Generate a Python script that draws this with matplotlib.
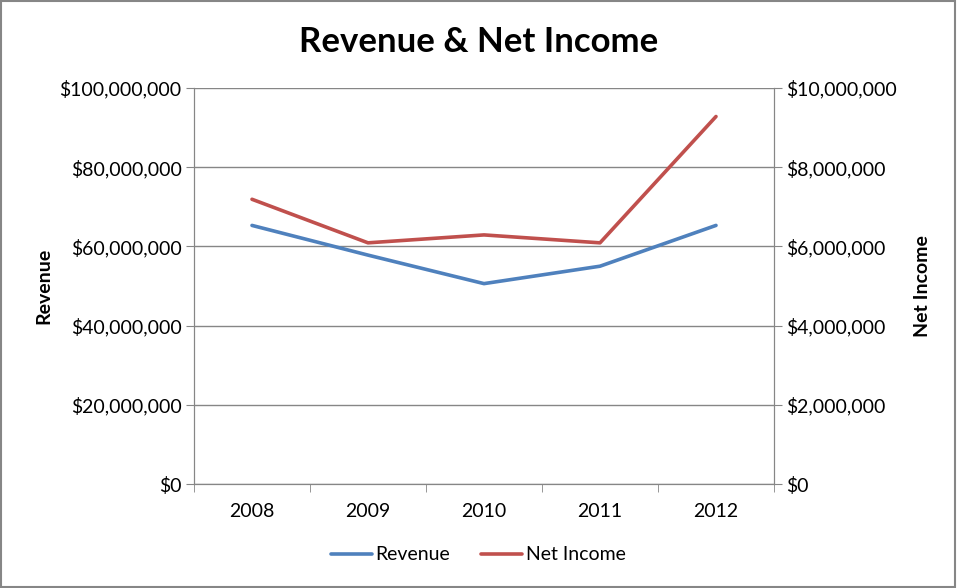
import matplotlib.pyplot as plt
from matplotlib.ticker import FuncFormatter, FixedLocator
from matplotlib.patches import Rectangle

plt.rcParams['font.family'] = ['Lato', 'DejaVu Sans']

# Data
years = ['2008', '2009', '2010', '2011', '2012']
revenue = [65300000, 57800000, 50600000, 55000000, 65300000]
net_income = [7190000, 6090000, 6290000, 6090000, 9280000]

blue = '#4F81BD'
red = '#C0504D'
gray = '#868686'

fig = plt.figure(figsize=(9.57, 5.88), dpi=100)
ax = fig.add_axes([194 / 957, 1 - 484 / 588, 580 / 957, 396 / 588])
ax2 = ax.twinx()

x = list(range(len(years)))
ax.plot(x, revenue, color=blue, lw=2.6, solid_capstyle='round', label='Revenue', zorder=3)
ax2.plot(x, net_income, color=red, lw=2.6, solid_capstyle='round', label='Net Income', zorder=3)

money = FuncFormatter(lambda v, p: '${:,.0f}'.format(v))

ax.set_xlim(-0.5, 4.5)
ax.set_ylim(0, 100000000)
ax2.set_ylim(0, 10000000)
ax.set_yticks(range(0, 100000001, 20000000))
ax2.set_yticks(range(0, 10000001, 2000000))
ax.yaxis.set_major_formatter(money)
ax2.yaxis.set_major_formatter(money)

ax.set_xticks(x)
ax.set_xticklabels(years)
ax.xaxis.set_minor_locator(FixedLocator([-0.5, 0.5, 1.5, 2.5, 3.5, 4.5]))
ax.tick_params(axis='x', which='major', length=0, pad=14, labelsize=14)
ax.tick_params(axis='x', which='minor', length=6, color=gray, direction='out')
ax.tick_params(axis='y', length=6, color=gray, labelsize=14, pad=3)
ax2.tick_params(axis='y', length=6, color=gray, labelsize=14, pad=3)

ax.grid(axis='y', color=gray, lw=1)
ax.set_axisbelow(True)
for a in (ax, ax2):
    a.spines['top'].set_visible(False)
    for s in ('left', 'right', 'bottom'):
        a.spines[s].set_color(gray)

ax.set_ylabel('Revenue', fontsize=14, fontweight='bold', labelpad=5)
ax2.set_ylabel('Net Income', fontsize=14, fontweight='bold', rotation=90, labelpad=12)

fig.text(0.5, 1 - 42 / 588, 'Revenue & Net Income', ha='center', va='center',
         fontsize=25, fontweight='bold')

h1, l1 = ax.get_legend_handles_labels()
h2, l2 = ax2.get_legend_handles_labels()
fig.legend(h1 + h2, l1 + l2, loc='center', bbox_to_anchor=(0.5, 1 - 555 / 588),
           ncol=2, frameon=False, fontsize=14, handlelength=2.1, handletextpad=0.2,
           columnspacing=1.6)

fig.patches.append(Rectangle((0.001, 0.002), 0.997, 0.996, transform=fig.transFigure,
                             fill=False, edgecolor=gray, lw=1.5))

fig.savefig('out.png', dpi=100)
